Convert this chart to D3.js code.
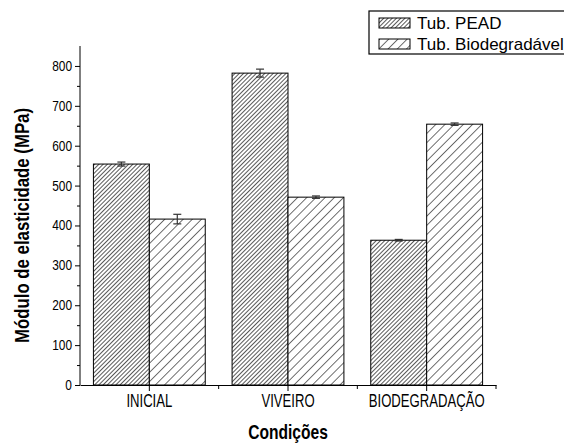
<!DOCTYPE html>
<meta charset="utf-8">
<title>Modulo de elasticidade</title>
<style>

body {
  margin: 0;
  background: #fff;
}

text {
  font-family: "Liberation Sans", Arial, sans-serif;
}

</style>
<body>
<script src="https://cdn.jsdelivr.net/npm/d3@7"></script>
<script>
var categories = ["INICIAL", "VIVEIRO", "BIODEGRADAÇÃO"],
    series = ["Tub. PEAD", "Tub. Biodegradável"],
    pead = [554, 782, 363],
    peadErr = [5, 10, 2],
    bio = [416, 471, 654],
    bioErr = [12, 3, 3],
    yTicks = [0, 100, 200, 300, 400, 500, 600, 700, 800];

var w = 564,
    h = 443,
    mLeft = 80,
    mRight = 496,
    mTop = 46,
    mBottom = 385,
    squeeze = 0.8; // no Arial Narrow installed, so squash the glyphs by hand

var svg = d3.select("body").append("svg")
    .attr("width", w)
    .attr("height", h);

var defs = svg.append("defs");

// dense hatch for PEAD, wide hatch for the biodegradable tube
function hatch(id, gap, stroke, width) {
  var p = defs.append("pattern")
      .attr("id", id)
      .attr("patternUnits", "userSpaceOnUse")
      .attr("width", gap)
      .attr("height", gap)
      .attr("patternTransform", "rotate(45)");
  p.append("rect").attr("width", gap).attr("height", gap).attr("fill", "#fff");
  p.append("line")
      .attr("x1", 0).attr("y1", 0)
      .attr("x2", 0).attr("y2", gap)
      .attr("stroke", stroke)
      .attr("stroke-width", width);
}
hatch("hPead", 3, "#111", 1.4);
hatch("hBio", 6.5, "#111", 1.2);

var fills = ["url(#hPead)", "url(#hBio)"];

var x0 = d3.scaleBand()
    .domain(categories)
    .range([mLeft, mRight]);

var x1 = d3.scaleBand()
    .domain(series)
    .range([0, x0.bandwidth()])
    .paddingOuter(0.24);

var y = d3.scaleLinear()
    .domain([0, 850])
    .range([mBottom, mTop]);

var rows = categories.map(function(c, i) {
  return {cat: c, vals: [
    {s: series[0], v: pead[i], e: peadErr[i], k: 0},
    {s: series[1], v: bio[i], e: bioErr[i], k: 1}
  ]};
});

var groups = svg.selectAll("g.grp")
    .data(rows)
  .enter().append("g")
    .attr("class", "grp")
    .attr("transform", function(d) { return "translate(" + x0(d.cat) + ",0)"; });

groups.selectAll("rect")
    .data(function(d) { return d.vals; })
  .enter().append("rect")
    .attr("x", function(d) { return x1(d.s); })
    .attr("y", function(d) { return y(d.v); })
    .attr("width", x1.bandwidth())
    .attr("height", function(d) { return y(0) - y(d.v); })
    .attr("fill", function(d) { return fills[d.k]; })
    .attr("stroke", "#000")
    .attr("stroke-width", 1);

// error bars
var err = groups.selectAll("g.err")
    .data(function(d) { return d.vals; })
  .enter().append("g")
    .attr("class", "err")
    .attr("stroke", "#333")
    .attr("stroke-width", 1.2);

err.append("line")
    .attr("x1", function(d) { return x1(d.s) + x1.bandwidth() / 2; })
    .attr("x2", function(d) { return x1(d.s) + x1.bandwidth() / 2; })
    .attr("y1", function(d) { return y(d.v + d.e); })
    .attr("y2", function(d) { return y(d.v - d.e); });

err.selectAll("line.cap")
    .data(function(d) { return [d.v + d.e, d.v - d.e].map(function(t) { return {t: t, d: d}; }); })
  .enter().append("line")
    .attr("class", "cap")
    .attr("x1", function(c) { return x1(c.d.s) + x1.bandwidth() / 2 - 4; })
    .attr("x2", function(c) { return x1(c.d.s) + x1.bandwidth() / 2 + 4; })
    .attr("y1", function(c) { return y(c.t); })
    .attr("y2", function(c) { return y(c.t); });

// y axis
var yAxis = svg.append("g")
    .attr("transform", "translate(" + mLeft + ",0)")
    .call(d3.axisLeft(y).tickValues(yTicks).tickSize(5).tickSizeOuter(0).tickPadding(3).tickFormat(d3.format("d")));

svg.append("g")
    .attr("transform", "translate(" + mLeft + ",0)")
    .call(d3.axisLeft(y).tickValues(d3.range(50, 850, 100)).tickSize(3).tickSizeOuter(0).tickFormat(""))
    .select(".domain").remove();

yAxis.selectAll("text")
    .attr("font-size", 14)
    .attr("font-family", null)
    .attr("fill", "#000")
    .attr("x", -8 / 0.85)
    .attr("transform", "scale(0.85,1)");
yAxis.select(".domain").attr("d", "M0," + mTop + "V" + mBottom);

// x axis
var xAxis = svg.append("g")
    .attr("transform", "translate(0," + mBottom + ")")
    .call(d3.axisBottom(x0).tickSize(6).tickSizeOuter(0).tickPadding(4));

xAxis.selectAll("text")
    .attr("font-size", 17.5)
    .attr("font-family", null)
    .attr("fill", "#000")
    .attr("transform", "scale(0.75,1)");

svg.append("g")
    .attr("transform", "translate(0," + mBottom + ")")
    .selectAll("line")
    .data(categories)
  .enter().append("line")
    .attr("x1", function(d) { return x0(d) + x0.bandwidth(); })
    .attr("x2", function(d) { return x0(d) + x0.bandwidth(); })
    .attr("y1", 0)
    .attr("y2", 4)
    .attr("stroke", "#000");

svg.selectAll(".domain, .tick line").attr("stroke", "#000");

// titles
svg.append("text")
    .attr("transform", "translate(29," + ((mTop + mBottom) / 2 + 10) + ")rotate(-90)scale(" + squeeze + ",1)")
    .attr("text-anchor", "middle")
    .attr("font-size", 21)
    .attr("font-weight", "bold")
    .text("Módulo de elasticidade (MPa)");

svg.append("text")
    .attr("transform", "translate(" + ((mLeft + mRight) / 2) + ",439)scale(" + squeeze + ",1)")
    .attr("text-anchor", "middle")
    .attr("font-size", 19.5)
    .attr("font-weight", "bold")
    .text("Condições");

// legend
var lg = svg.append("g")
    .attr("transform", "translate(369,11)");

lg.append("rect")
    .attr("width", 200)
    .attr("height", 43)
    .attr("fill", "#fff")
    .attr("stroke", "#000")
    .attr("stroke-width", 1.2);

var item = lg.selectAll("g.item")
    .data(series)
  .enter().append("g")
    .attr("class", "item")
    .attr("transform", function(d, i) { return "translate(10," + (7 + i * 21) + ")"; });

item.append("rect")
    .attr("width", 31)
    .attr("height", 10)
    .attr("fill", function(d, i) { return fills[i]; })
    .attr("stroke", "#000");

item.append("text")
    .attr("x", 38)
    .attr("y", 11)
    .attr("font-size", 17)
    .text(function(d) { return d; });
</script>
